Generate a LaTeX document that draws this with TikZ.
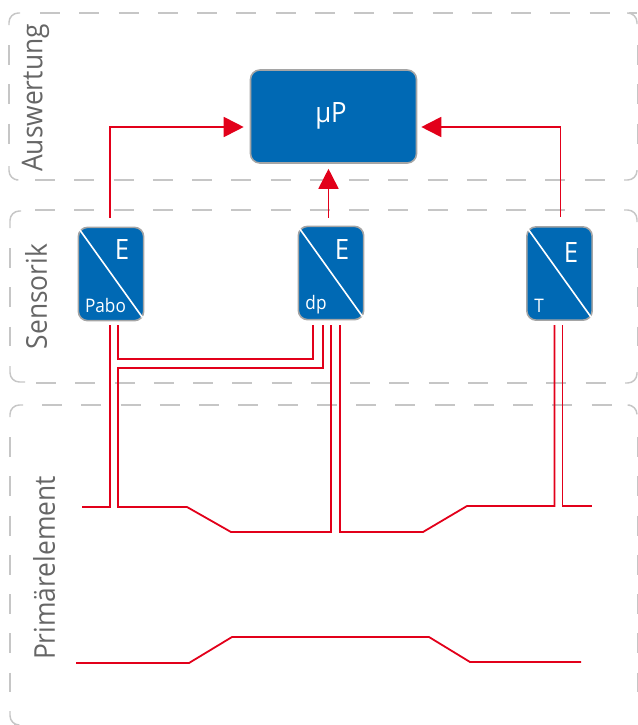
\documentclass[tikz,border=0pt]{standalone}
\usepackage{fontspec}
\setmainfont[FakeStretch=0.92]{Open Sans}
\usepackage{xcolor}
\usetikzlibrary{arrows.meta,calc}

\definecolor{boxblue}{HTML}{0069B4}
\definecolor{wirered}{HTML}{E2001A}
\definecolor{framegray}{HTML}{C6C6C6}
\definecolor{edgegray}{HTML}{A5A5A5}
\definecolor{labelgray}{HTML}{666666}

\tikzset{
  groupframe/.style={draw=framegray, line width=1.1pt, dash pattern=on 15pt off 14.45pt},
  groupcorner/.style={draw=framegray, line width=1.1pt, rounded corners=7pt},
  grouplabel/.style={rotate=90, text=labelgray, font=\fontsize{21.5}{21.5}\selectfont},
  bluebox/.style={draw=edgegray, line width=1.2pt, fill=boxblue, rounded corners=7pt, inner sep=0pt},
  sensorbox/.style={bluebox, minimum width=49pt, minimum height=70pt},
  splitline/.style={white, line width=1.2pt},
  wire/.style={draw=wirered, line width=1.35pt},
  feed/.style={wire, -{Triangle[length=15pt,width=15pt]}},
  boxlabel/.style={text=white, font=\fontsize{14}{14}\selectfont},
  elabel/.style={text=white, font=\fontsize{21}{21}\selectfont}
}

\begin{document}
\begin{tikzpicture}[x=0.75pt, y=-0.75pt]
  \useasboundingbox (0,0) rectangle (637,725);

  % ---------- group Auswertung ----------
  \draw[groupframe] (40,13) -- (637,13);
  \draw[groupframe] (35,180) -- (620,180);
  \draw[groupframe] (9,45) -- (9,155);
  \draw[groupframe] (637.5,45) -- (637.5,155);
  \draw[groupcorner] (20,13) -- (9,13) -- (9,25);
  \draw[groupcorner] (9,166) -- (9,180) -- (16,180);
  \draw[groupcorner] (627,13) -- (637,13) -- (637,24);
  \draw[groupcorner] (624,180) -- (637,180) -- (637,170);

  % ---------- group Sensorik ----------
  \draw[groupframe] (35,210) -- (620,210);
  \draw[groupframe] (36,383) -- (620,383);
  \draw[groupframe] (10,248) -- (10,346);
  \draw[groupframe] (637.5,248) -- (637.5,346);
  \draw[groupcorner] (21,211) -- (10,211) -- (10,228);
  \draw[groupcorner] (10,366) -- (10,382) -- (25,382);
  \draw[groupcorner] (624,210) -- (637,210) -- (637,222);
  \draw[groupcorner] (625,383) -- (637,383) -- (637,372);

  % ---------- group Primaerelement ----------
  \draw[groupframe] (42,405) -- (620,405);
  \draw[groupframe] (10,437) -- (10,692);
  \draw[groupframe] (637.5,437) -- (637.5,692);
  \draw[groupcorner] (23,405) -- (10,405) -- (10,417);
  \draw[groupcorner] (10,711) -- (10,725) -- (14,725);
  \draw[groupcorner] (630,405) -- (637,405) -- (637,414);

  \node[grouplabel] (auswertung) at (35.5,98) {Auswertung};
  \node[grouplabel] (sensorik) at (36,296.5) {Sensorik};
  \node[grouplabel] (primaer) at (44,568) {Primärelement};

  % ---------- boxes ----------
  \node[bluebox, minimum width=124.5pt, minimum height=69.75pt] (mup) at (333.5,116.5) {};
  \node[sensorbox] (pabo) at (111,274) {};
  \node[sensorbox] (dp) at (331,273) {};
  \node[sensorbox] (temp) at (559.5,273.5) {};
  \node[text=white, font=\fontsize{21}{21}\selectfont] (mulabel) at (331,116) {µP};

  % split lines and labels of the sensors
  \draw[splitline] ($(pabo.north west)+(2,3)$) -- ($(pabo.south east)+(-2,-4)$);
  \draw[splitline] ($(dp.north west)+(2,3)$) -- ($(dp.south east)+(-2,-4)$);
  \draw[splitline] ($(temp.north west)+(2,3)$) -- ($(temp.south east)+(-2,-4)$);
  \node[elabel] (epabo) at (122,250) {E};
  \node[elabel] (edp) at (342,250) {E};
  \node[elabel] (etemp) at (571,253) {E};
  \node[boxlabel] (lpabo) at (105.5,305) {Pabo};
  \node[boxlabel] (ldp) at (316,305) {dp};
  \node[boxlabel] (ltemp) at (539,306) {T};

  % ---------- arrows up to the processor ----------
  \coordinate (paboup) at ($(pabo.north)+(-1,-9)$);
  \coordinate (dpup) at ($(dp.north)+(-2.5,-8)$);
  \coordinate (tempup) at ($(temp.north)+(1,-9)$);
  \draw[feed] (paboup) |- ($(mup.west)+(-6,10.5)$);
  \draw[feed] (tempup) |- ($(mup.east)+(4,10.5)$);
  \draw[feed] (dpup) -- ($(mup.south)+(-5,5)$);

  % ---------- wires down to the primary element ----------
  \coordinate (tleft) at (110,325);
  \coordinate (tright) at (118,325);
  \coordinate (da) at (313,325);
  \coordinate (db) at (323,325);
  \coordinate (dc) at (331,325);
  \coordinate (dd) at (340,325);
  \coordinate (ta) at (554.5,325);
  \coordinate (tb) at (562.5,325);

  \draw[wire] (tleft) -- (110,507) -- (82,507);
  \draw[wire] (tright) -- (118,359) -- (313,359) -- (da);
  \draw[wire] (db) -- (323,368) -- (118,368) -- (118,507) -- (187,507) -- (231,532) -- (331,532) -- (dc);
  \draw[wire] (dd) -- (340,532) -- (423,532) -- (467,506) -- (554.5,506) -- (ta);
  \draw[wire] (tb) -- (562.5,506) -- (592,506);
  \draw[wire] (76,663) -- (189,663) -- (232,637) -- (429,637) -- (470,662) -- (581,662);
\end{tikzpicture}
\end{document}
